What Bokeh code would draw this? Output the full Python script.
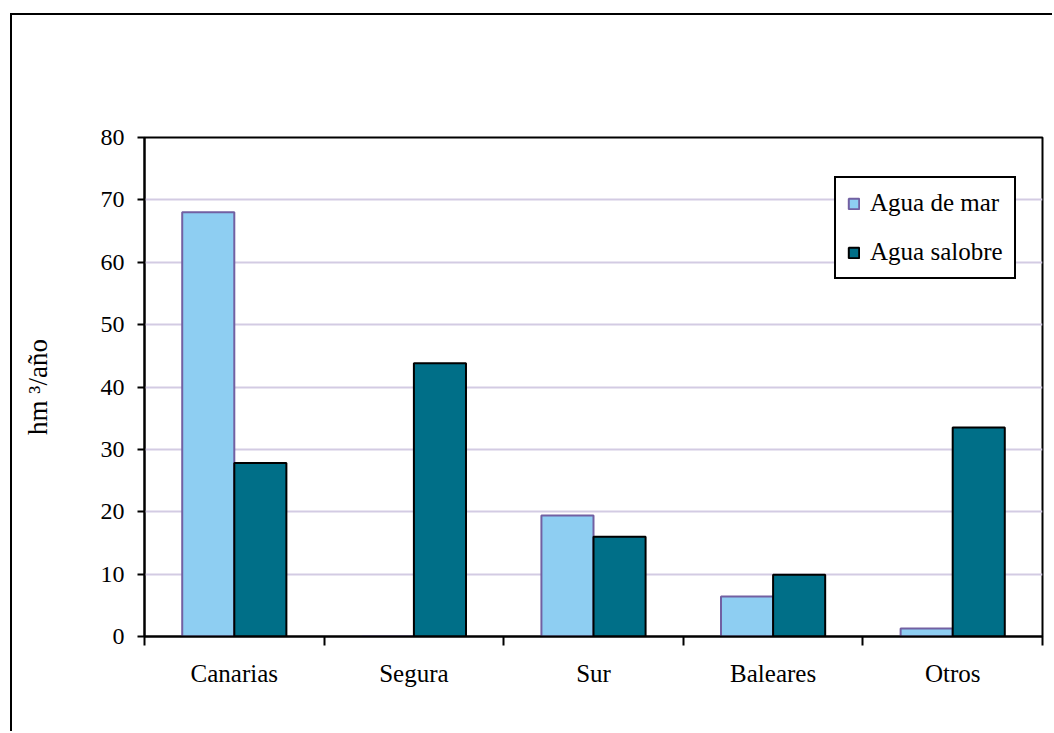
import numpy as np
from bokeh.plotting import figure
from bokeh.models import FixedTicker, Legend, LegendItem
from bokeh.embed import file_html
from bokeh.resources import INLINE

# Desalination capacity by region (hm3/year)
regions = ["Canarias", "Segura", "Sur", "Baleares", "Otros"]
agua_de_mar = [68.0, 0.0, 19.4, 6.4, 1.3]
agua_salobre = [27.8, 43.8, 16.0, 9.9, 33.5]
y_ticks = [0, 10, 20, 30, 40, 50, 60, 70, 80]

FONT = "Liberation Serif"
LIGHT_BLUE = "#8ECEF2"
TEAL = "#006F88"
PURPLE = "#7260A2"
GRID = "#D3CBE3"

centers = np.arange(len(regions)) + 0.5
bar_w = 0.29

p = figure(
    width=1042, height=718,
    x_range=(0, len(regions)), y_range=(0, 80),
    output_backend="svg", toolbar_location=None,
    min_border_left=132, min_border_right=12,
    min_border_top=122, min_border_bottom=97,
    background_fill_color="white", border_fill_color="white",
)
p.margin = (13, 0, 0, 10)
p.styles = {"border-left": "2px solid #000", "border-top": "2px solid #000"}

r_mar = p.vbar(x=centers - bar_w / 2, top=agua_de_mar, width=bar_w, bottom=0,
               fill_color=LIGHT_BLUE, line_color=PURPLE, line_width=2)
r_sal = p.vbar(x=centers + bar_w / 2, top=agua_salobre, width=bar_w, bottom=0,
               fill_color=TEAL, line_color="black", line_width=2)

p.outline_line_color = "black"
p.outline_line_width = 2
p.outline_line_alpha = 1

# y axis
p.yaxis.ticker = FixedTicker(ticks=y_ticks)
p.yaxis.axis_line_width = 2
p.yaxis.axis_line_color = "black"
p.yaxis.major_tick_line_width = 2
p.yaxis.major_tick_line_color = "black"
p.yaxis.major_tick_out = 7
p.yaxis.major_tick_in = 0
p.yaxis.minor_tick_line_color = None
p.yaxis.major_label_standoff = 13
p.yaxis.major_label_text_font = FONT
p.yaxis.major_label_text_font_size = "24px"
p.yaxis.major_label_text_color = "black"
p.yaxis.axis_label = "hm ³/año"
p.yaxis.axis_label_text_font = FONT
p.yaxis.axis_label_text_font_size = "27px"
p.yaxis.axis_label_text_font_style = "normal"
p.yaxis.axis_label_text_color = "black"
p.yaxis.axis_label_standoff = 45

# x axis: labels at category centres, ticks at category boundaries
p.xaxis.ticker = FixedTicker(ticks=list(centers), minor_ticks=list(range(len(regions) + 1)))
p.xaxis.major_label_overrides = {float(c): name for c, name in zip(centers, regions)}
p.xaxis.axis_line_width = 2
p.xaxis.axis_line_color = "black"
p.xaxis.major_tick_line_color = None
p.xaxis.major_tick_out = 0
p.xaxis.major_tick_in = 0
p.xaxis.minor_tick_line_color = "black"
p.xaxis.minor_tick_line_width = 2
p.xaxis.minor_tick_out = 9
p.xaxis.minor_tick_in = 0
p.xaxis.major_label_standoff = 14
p.xaxis.major_label_text_font = FONT
p.xaxis.major_label_text_font_size = "25px"
p.xaxis.major_label_text_color = "black"

p.xgrid.grid_line_color = None
p.ygrid.grid_line_color = GRID
p.ygrid.grid_line_width = 2

legend = Legend(
    items=[LegendItem(label="Agua de mar", renderers=[r_mar]),
           LegendItem(label="Agua salobre", renderers=[r_sal])],
    location=(690, 357),
    border_line_color="black", border_line_width=2, border_line_alpha=1,
    background_fill_color="white", background_fill_alpha=1,
    label_text_font=FONT, label_text_font_size="25px", label_text_color="black",
    glyph_width=13, glyph_height=13, label_height=25,
    spacing=21, padding=11, margin=0, label_standoff=10,
)
p.add_layout(legend, "center")

open("out.html", "w").write(file_html(p, INLINE))
